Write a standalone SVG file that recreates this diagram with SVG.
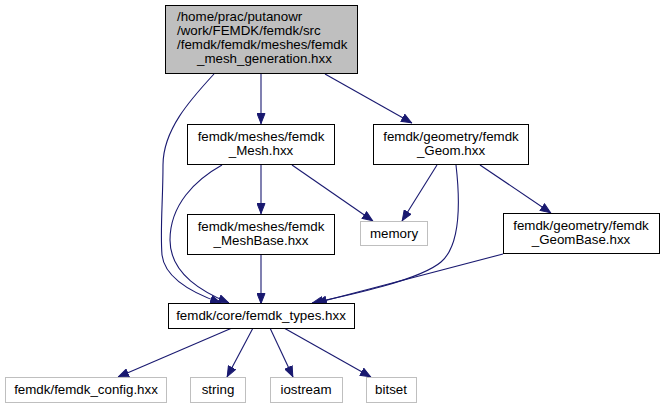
<svg xmlns="http://www.w3.org/2000/svg" width="663" height="409" viewBox="0 0 663 409">
<style>
text{font-family:"Liberation Sans",Arial,Helvetica,sans-serif;font-size:13.33px;fill:#000}
.c{text-anchor:middle}
.n{fill:#fff;stroke:#000;stroke-width:1}
.g{fill:#fff;stroke:#bfbfbf;stroke-width:1}
.e{fill:none;stroke:#191970;stroke-width:1.1;marker-end:url(#a)}
</style>
<defs>
<marker id="a" viewBox="0 0 11 9" refX="11" refY="4.5" markerWidth="11" markerHeight="9" markerUnits="userSpaceOnUse" orient="auto">
<path d="M0.5,0.5 L10.5,4.5 L0.5,8.5 z" fill="#191970" stroke="#191970"/>
</marker>
</defs>
<rect width="663" height="409" fill="#fff"/>
<g id="edges">
<path class="e" d="M261,74 L261,124"/>
<path class="e" d="M325,74 L412,123"/>
<path class="e" d="M214,74 C190,100 163,130 163,165 C163,200 160,230 162,255 C165,280 198,295 221,303"/>
<path class="e" d="M261,165 L261,214"/>
<path class="e" d="M292,165 L373,221"/>
<path class="e" d="M222,165 C195,180 170,205 170,240 C170,275 205,293 229,303"/>
<path class="e" d="M261,255 L261,304"/>
<path class="e" d="M437,165 L402,221"/>
<path class="e" d="M456,165 C460,200 461,245 441,262 C420,280 350,295 312,303"/>
<path class="e" d="M480,165 L551,213"/>
<path class="e" d="M503,254 L316,303"/>
<path class="e" d="M232,328 L118,377"/>
<path class="e" d="M253,328 L227,377"/>
<path class="e" d="M270,328 L293,377"/>
<path class="e" d="M284,328 L371,377"/>
</g>
<g id="node1">
<rect x="165.5" y="5.5" width="192" height="68" fill="#bfbfbf" stroke="#000"/>
<text x="177" y="21">/home/prac/putanowr</text>
<text x="177" y="35">/work/FEMDK/femdk/src</text>
<text x="177" y="49">/femdk/femdk/meshes/femdk</text>
<text x="197" y="63">_mesh_generation.hxx</text>
</g>
<g id="node2">
<rect class="n" x="187.5" y="124.5" width="147" height="40"/>
<text class="c" x="261" y="141">femdk/meshes/femdk</text>
<text class="c" x="261" y="155">_Mesh.hxx</text>
</g>
<g id="node3">
<rect class="n" x="373.5" y="124.5" width="155" height="40"/>
<text class="c" x="451" y="141">femdk/geometry/femdk</text>
<text class="c" x="451" y="155">_Geom.hxx</text>
</g>
<g id="node4">
<rect class="n" x="187.5" y="214.5" width="147" height="40"/>
<text class="c" x="261" y="231">femdk/meshes/femdk</text>
<text class="c" x="261" y="245">_MeshBase.hxx</text>
</g>
<g id="node5">
<rect class="g" x="360.5" y="221.5" width="67" height="24"/>
<text class="c" x="394" y="238">memory</text>
</g>
<g id="node6">
<rect class="n" x="503.5" y="213.5" width="156" height="40"/>
<text class="c" x="581" y="230">femdk/geometry/femdk</text>
<text class="c" x="581" y="244">_GeomBase.hxx</text>
</g>
<g id="node7">
<rect class="n" x="168.5" y="303.5" width="186" height="25"/>
<text class="c" x="261" y="320">femdk/core/femdk_types.hxx</text>
</g>
<g id="node8">
<rect class="g" x="5.5" y="377.5" width="161" height="25"/>
<text class="c" x="86" y="394">femdk/femdk_config.hxx</text>
</g>
<g id="node9">
<rect class="g" x="190.5" y="377.5" width="55" height="25"/>
<text class="c" x="218" y="394">string</text>
</g>
<g id="node10">
<rect class="g" x="270.5" y="377.5" width="72" height="25"/>
<text class="c" x="306" y="394">iostream</text>
</g>
<g id="node11">
<rect class="g" x="366.5" y="377.5" width="50" height="25"/>
<text class="c" x="391" y="394">bitset</text>
</g>
</svg>
